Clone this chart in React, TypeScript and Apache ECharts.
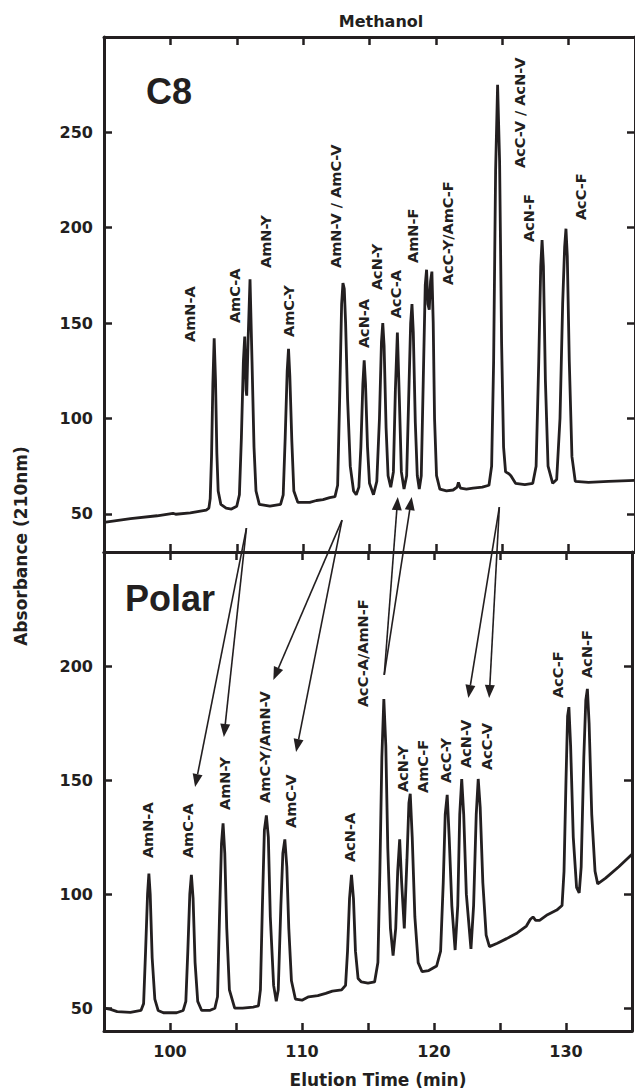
import React, { useEffect, useRef } from "react";
import * as echarts from "echarts";

const X_MIN = 95;
const X_MAX = 135;
const xTickLabels = [100, 110, 120, 130];
const c8Range = [30, 300];
const polarRange = [40, 250];
const c8Ticks = [50, 100, 150, 200, 250];
const polarTicks = [50, 100, 150, 200];

// C8 chromatogram: [elution time (min), absorbance]
const c8Trace: [number, number][] = [
  [95.0, 45.5], [97, 47.5], [99, 49], [100.2, 50.3], [100.4, 49.8], [101.5, 50.5], [102.7, 52],
  [102.9, 53], [103.0, 58], [103.1, 80], [103.2, 118], [103.3, 142], [103.4, 120], [103.5, 82],
  [103.6, 62], [103.8, 55], [104.2, 53], [104.6, 52.5], [105.0, 54], [105.2, 60], [105.35, 90],
  [105.5, 130], [105.6, 143], [105.7, 115], [105.75, 112], [105.85, 140], [106.0, 173], [106.15, 130],
  [106.3, 85], [106.45, 62], [106.7, 55], [107.5, 54], [108.3, 55], [108.5, 60], [108.65, 90],
  [108.8, 125], [108.9, 136.5], [109.0, 122], [109.15, 88], [109.3, 62], [109.6, 56], [110.5, 56],
  [111.0, 57], [111.5, 57.5], [112.0, 58.5], [112.4, 59], [112.6, 65], [112.75, 110], [112.9, 160],
  [113.0, 171], [113.1, 168], [113.2, 150], [113.35, 110], [113.55, 75], [113.8, 62], [114.0, 60],
  [114.2, 64], [114.35, 85], [114.5, 118], [114.6, 130.5], [114.7, 118], [114.85, 85], [115.0, 66],
  [115.3, 60], [115.55, 67], [115.75, 100], [115.9, 140], [116.0, 150], [116.1, 138], [116.25, 95],
  [116.4, 70], [116.6, 64], [116.8, 72], [116.95, 115], [117.1, 145], [117.25, 110], [117.4, 72],
  [117.6, 63], [117.8, 70], [117.95, 110], [118.1, 150], [118.2, 160], [118.3, 145], [118.45, 98],
  [118.6, 70], [118.75, 63], [118.9, 70], [119.05, 120], [119.2, 170], [119.3, 178], [119.4, 160],
  [119.5, 157], [119.6, 172], [119.7, 177], [119.8, 150], [119.9, 100], [120.05, 70], [120.3, 63],
  [120.8, 62], [121.3, 62.5], [121.6, 64], [121.7, 66.5], [121.85, 63.5], [122.3, 63], [122.8, 63.5],
  [123.5, 64], [124.0, 65], [124.2, 75], [124.35, 130], [124.5, 230], [124.65, 275], [124.8, 235],
  [124.95, 140], [125.1, 85], [125.25, 72], [125.5, 71], [125.65, 70], [126.0, 66], [126.7, 65.3],
  [127.3, 66], [127.55, 75], [127.75, 130], [127.9, 180], [128.0, 193.5], [128.1, 180], [128.25, 120],
  [128.45, 75], [128.8, 66], [129.1, 68], [129.35, 100], [129.55, 160], [129.7, 190], [129.8, 199.5],
  [129.9, 185], [130.05, 130], [130.25, 80], [130.5, 67], [131.5, 66.5], [133, 67], [135, 67.5],
];

// Polar chromatogram
const polarTrace: [number, number][] = [
  [95.0, 50], [95.5, 49.5], [96.0, 48.5], [97, 48.2], [97.8, 49], [98.0, 52], [98.15, 75], [98.3, 100],
  [98.4, 109], [98.5, 100], [98.65, 72], [98.85, 54], [99.1, 49], [99.5, 48], [100.5, 48], [101.0, 49],
  [101.2, 53], [101.35, 75], [101.5, 100], [101.62, 108.5], [101.75, 98], [101.9, 70], [102.1, 53],
  [102.4, 49], [103.0, 49], [103.4, 50], [103.6, 55], [103.75, 90], [103.9, 122], [104.02, 131],
  [104.15, 118], [104.3, 85], [104.5, 58], [104.9, 50], [105.5, 50], [106.3, 50.5], [106.7, 51],
  [106.85, 58], [107.0, 95], [107.15, 128], [107.3, 134.5], [107.45, 125], [107.6, 90], [107.85, 60],
  [108.05, 53], [108.2, 58], [108.4, 95], [108.55, 118], [108.7, 124], [108.85, 112], [109.0, 85],
  [109.2, 62], [109.5, 54], [110, 53.5], [110.5, 55], [111.2, 55.5], [111.8, 56.5], [112.3, 57.5],
  [113.0, 58], [113.3, 60], [113.45, 75], [113.6, 98], [113.75, 108.5], [113.9, 98], [114.05, 75],
  [114.25, 63], [114.5, 61.5], [115.0, 61], [115.5, 61.5], [115.75, 70], [115.9, 110], [116.05, 160],
  [116.2, 185.5], [116.35, 165], [116.5, 120], [116.7, 85], [116.9, 73], [117.1, 85], [117.25, 110],
  [117.4, 124], [117.55, 105], [117.75, 85], [117.95, 115], [118.1, 140], [118.2, 144], [118.35, 125],
  [118.55, 90], [118.8, 70], [119.1, 66], [119.6, 66.5], [120.2, 68.5], [120.5, 75], [120.7, 105],
  [120.85, 135], [121.0, 143.5], [121.15, 125], [121.35, 95], [121.6, 75.5], [121.8, 95], [121.95, 135],
  [122.1, 150.5], [122.25, 135], [122.45, 100], [122.8, 76], [123.0, 95], [123.2, 135], [123.35, 150.5],
  [123.5, 138], [123.7, 105], [123.95, 82], [124.2, 77], [124.8, 78.5], [125.5, 80.5], [126.3, 83],
  [127.0, 86], [127.3, 89], [127.5, 90], [127.7, 88.5], [128.0, 88.5], [128.6, 91], [129.3, 93],
  [129.7, 95], [129.85, 110], [130.0, 150], [130.12, 178], [130.22, 182], [130.35, 165], [130.55, 125],
  [130.8, 103], [131.0, 100.5], [131.15, 112], [131.35, 160], [131.5, 185], [131.62, 190], [131.75, 175],
  [131.95, 135], [132.2, 110], [132.4, 104.5], [133, 107], [134, 112], [135, 117.5],
];

// peak labels: text, time at label centre, absorbance where the (upward) label starts
const c8Labels = [
  { text: "AmN-A", t: 101.5, v: 140.1 },
  { text: "AmC-A", t: 104.9, v: 150.0 },
  { text: "AmN-Y", t: 107.2, v: 178.9 },
  { text: "AmC-Y", t: 108.9, v: 142.7 },
  { text: "AmN-V / AmC-V", t: 112.5, v: 178.9 },
  { text: "AcN-A", t: 114.6, v: 136.9 },
  { text: "AcN-Y", t: 115.6, v: 167.3 },
  { text: "AcC-A", t: 117.0, v: 152.6 },
  { text: "AmN-F", t: 118.25, v: 181.5 },
  { text: "AcC-Y/AmC-F", t: 120.95, v: 170 },
  { text: "AcC-V / AcN-V", t: 126.3, v: 231.3 },
  { text: "AcN-F", t: 127.0, v: 192.5 },
  { text: "AcC-F", t: 130.9, v: 204 },
];
const polarLabels = [
  { text: "AmN-A", t: 98.3, v: 115.8 },
  { text: "AmC-A", t: 101.4, v: 115.8 },
  { text: "AmN-Y", t: 104.15, v: 136.9 },
  { text: "AmC-Y/AmN-V", t: 107.2, v: 140 },
  { text: "AmC-V", t: 109.2, v: 129 },
  { text: "AcN-A", t: 113.6, v: 114.1 },
  { text: "AcC-A/AmN-F", t: 114.65, v: 182 },
  { text: "AcN-Y", t: 117.65, v: 144.8 },
  { text: "AmC-F", t: 119.15, v: 144.3 },
  { text: "AcC-Y", t: 120.9, v: 148.7 },
  { text: "AcN-V", t: 122.4, v: 155.3 },
  { text: "AcC-V", t: 124.0, v: 154.4 },
  { text: "AcC-F", t: 129.4, v: 186 },
  { text: "AcN-F", t: 131.6, v: 194.8 },
];

// arrows: [panel (0 = C8, 1 = Polar), time, absorbance]
const arrows: { from: [number, number, number]; to: [number, number, number] }[] = [
  { from: [0, 105.73, 42.5], to: [1, 101.9, 147] },
  { from: [0, 105.73, 42.5], to: [1, 104.08, 168.9] },
  { from: [0, 112.93, 46.7], to: [1, 107.83, 193.9] },
  { from: [0, 112.93, 46.7], to: [1, 109.55, 162.3] },
  { from: [1, 116.23, 196.1], to: [0, 117.13, 58.8] },
  { from: [1, 116.23, 196.1], to: [0, 118.18, 58.8] },
  { from: [0, 124.78, 53.5], to: [1, 122.6, 186] },
  { from: [0, 124.78, 53.5], to: [1, 124.18, 186] },
];

const INK = "#231f20";
const TICK_FONT = "DejaVu Sans";
const LABEL_FONT = "Liberation Sans";

export default function App() {
  const ref = useRef<HTMLDivElement>(null);
  useEffect(() => {
    if (!ref.current) return;
    const chart = echarts.init(ref.current, null, { renderer: "svg" });
    const axisLine = { show: true, onZero: false, lineStyle: { color: INK, width: 3 } };
    const tick = { show: true, inside: true, length: 8, lineStyle: { color: INK, width: 2.5 } };
    const xLabel = (show: boolean) => ({
      show,
      margin: 12,
      color: INK,
      fontFamily: TICK_FONT,
      fontWeight: "bold",
      fontSize: 16,
      formatter: (v: number) => (xTickLabels.includes(v) ? String(v) : ""),
    });
    const xAx = (gridIndex: number, position: string, showLabel: boolean) => ({
      type: "value",
      gridIndex,
      position,
      min: X_MIN,
      max: X_MAX,
      interval: 5,
      axisLine,
      axisTick: tick,
      axisLabel: xLabel(showLabel),
      splitLine: { show: false },
    });
    const yAx = (gridIndex: number, position: string, range: number[], ticks: number[], showLabel: boolean) => ({
      type: "value",
      gridIndex,
      position,
      min: range[0],
      max: range[1],
      axisLine,
      axisTick: { ...tick, customValues: ticks },
      axisLabel: {
        show: showLabel,
        customValues: ticks,
        margin: 11,
        color: INK,
        fontFamily: TICK_FONT,
        fontWeight: "bold",
        fontSize: 16,
      },
      splitLine: { show: false },
    });
    chart.setOption({
      animation: false,
      grid: [
        { left: 104, top: 37, width: 533, height: 515 },
        { left: 104, top: 552, width: 533, height: 479 },
      ],
      xAxis: [xAx(0, "bottom", false), xAx(0, "top", false), xAx(1, "bottom", true), xAx(1, "top", false)],
      yAxis: [
        yAx(0, "left", c8Range, c8Ticks, true),
        yAx(0, "right", c8Range, c8Ticks, false),
        yAx(1, "left", polarRange, polarTicks, true),
        yAx(1, "right", polarRange, polarTicks, false),
      ],
      series: [
        {
          type: "line",
          xAxisIndex: 0,
          yAxisIndex: 0,
          data: c8Trace,
          showSymbol: false,
          lineStyle: { color: INK, width: 2.8 },
          clip: true,
        },
        {
          type: "line",
          xAxisIndex: 2,
          yAxisIndex: 2,
          data: polarTrace,
          showSymbol: false,
          lineStyle: { color: INK, width: 2.8 },
          clip: true,
        },
      ],
    });

    const px = (panel: number, t: number, v: number) =>
      chart.convertToPixel({ gridIndex: panel } as any, [t, v]) as number[];

    const els: any[] = [];
    const txt = (x: number, y: number, text: string, font: string, rot = 0, align = "center", valign = "middle") => ({
      type: "text",
      x,
      y,
      rotation: rot,
      silent: true,
      style: {
        text,
        font,
        fill: INK,
        align,
        verticalAlign: valign,
        textAlign: align,
        textVerticalAlign: valign,
      },
    });
    els.push(txt(381, 21, "Methanol", `bold 16px ${TICK_FONT}`));
    els.push(txt(378, 1080, "Elution Time (min)", `bold 17px ${TICK_FONT}`));
    els.push(txt(21, 546, "Absorbance (210nm)", `bold 17px ${TICK_FONT}`, Math.PI / 2));
    els.push(txt(146, 91, "C8", `bold 36px ${LABEL_FONT}`, 0, "left"));
    els.push(txt(125, 598, "Polar", `bold 36px ${LABEL_FONT}`, 0, "left"));

    const addLabels = (panel: number, list: { text: string; t: number; v: number }[]) => {
      list.forEach((l) => {
        const [x, y] = px(panel, l.t, l.v);
        els.push(txt(x, y, l.text, `bold 14.5px ${TICK_FONT}`, Math.PI / 2, "left", "middle"));
      });
    };
    addLabels(0, c8Labels);
    addLabels(1, polarLabels);

    arrows.forEach((a) => {
      const [x1, y1] = px(a.from[0], a.from[1], a.from[2]);
      const [x2, y2] = px(a.to[0], a.to[1], a.to[2]);
      const dx = x2 - x1;
      const dy = y2 - y1;
      const len = Math.sqrt(dx * dx + dy * dy);
      const ux = dx / len;
      const uy = dy / len;
      const hl = 13;
      const hw = 5;
      const bx = x2 - ux * hl;
      const by = y2 - uy * hl;
      els.push({
        type: "line",
        silent: true,
        shape: { x1, y1, x2: bx, y2: by },
        style: { stroke: INK, lineWidth: 1.6 },
      });
      els.push({
        type: "polygon",
        silent: true,
        shape: {
          points: [
            [x2, y2],
            [bx - uy * hw, by + ux * hw],
            [bx + uy * hw, by - ux * hw],
          ],
        },
        style: { fill: INK },
      });
    });

    chart.setOption({ graphic: { elements: els } });
    return () => chart.dispose();
  }, []);
  return (
    <div
      ref={ref}
      style={{ position: "absolute", left: 0, top: 0, width: 635, height: 1091, background: "#fff" }}
    />
  );
}
